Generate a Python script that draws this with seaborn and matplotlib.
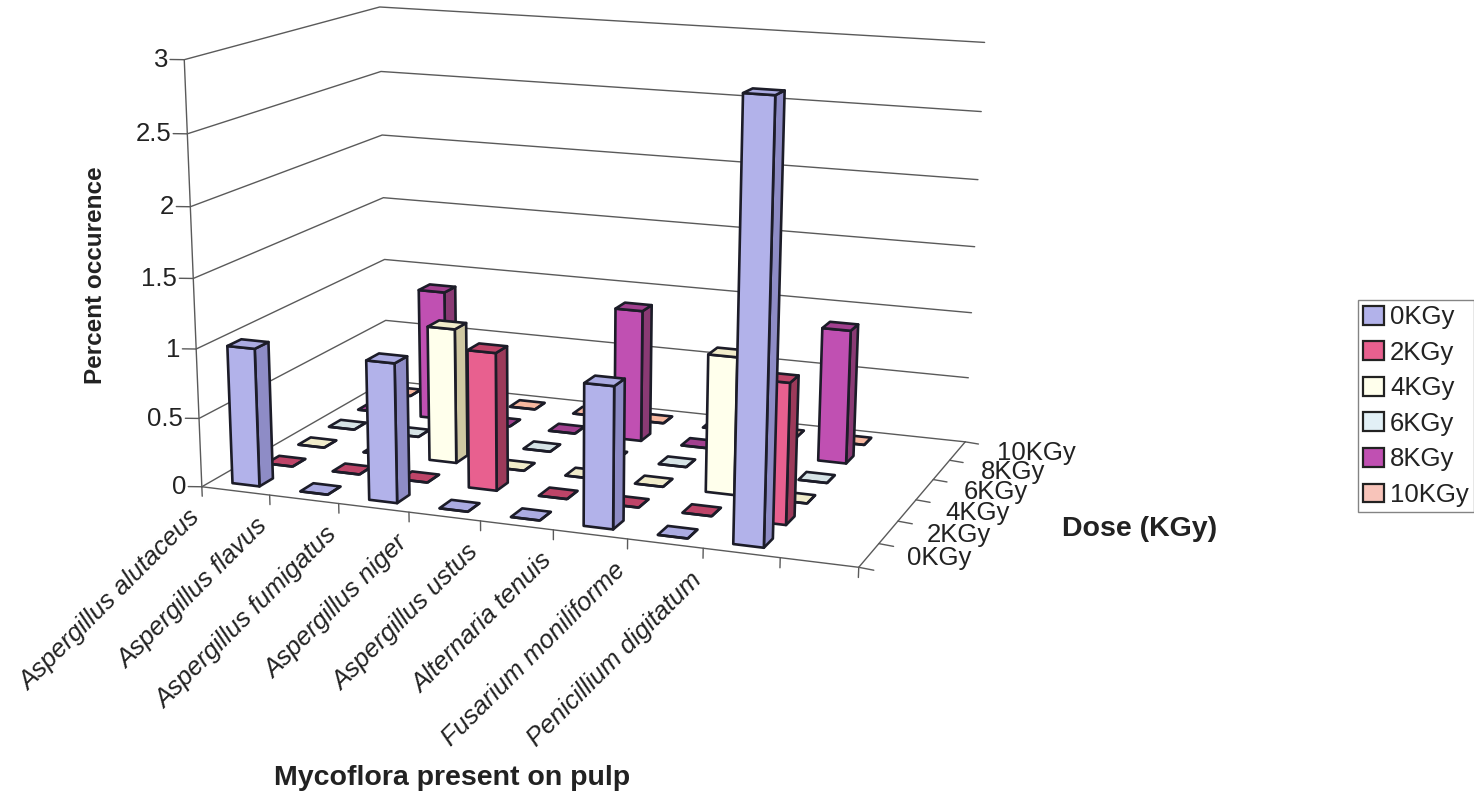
import numpy as np
import pandas as pd
import matplotlib
matplotlib.use("Agg")
import matplotlib.pyplot as plt
from matplotlib.patches import Patch
import seaborn as sns

# ---- values -------------------------------------------------------------
species = ["Aspergillus alutaceus", "Aspergillus flavus", "Aspergillus fumigatus",
           "Aspergillus niger", "Aspergillus ustus", "Alternaria tenuis",
           "Fusarium moniliforme", "Penicillium digitatum"]
doses = ["0KGy", "2KGy", "4KGy", "6KGy", "8KGy", "10KGy"]
dose_0 = [1, 0, 1, 0, 0, 1, 0, 3]
dose_2 = [0, 0, 0, 1, 0, 0, 0, 1]
dose_4 = [0, 0, 1, 0, 0, 0, 1, 0]
dose_6 = [0, 0, 0, 0, 0, 0, 0, 0]
dose_8 = [0, 1, 0, 0, 1, 0, 0, 1]
dose_10 = [0, 0, 0, 0, 0, 0, 0, 0]
z_ticks = [0, 0.5, 1, 1.5, 2, 2.5, 3]
z_tick_labels = ["0", "0.5", "1", "1.5", "2", "2.5", "3"]

front_hex = ["#B2B2EA", "#E8608F", "#FFFFEC", "#E2F0F6", "#C050B2", "#F8C4BA"]
side_hex = ["#8E8CC6", "#9C3A5A", "#CFC8A2", "#B4C4CC", "#8A3A74", "#D09888"]
top_hex = ["#ABABE2", "#BE4468", "#F1ECCB", "#D6E3E6", "#A2408F", "#F8B8A0"]

# ---- camera: a projective map from (species, dose, percent) to image pixels
camera_world = np.array([
    [0, 0, 0], [9, 0, 0], [9, 6, 0], [0, 6, 0],
    [0, 0, 3], [0, 6, 3], [9, 6, 3],
    [0, 0, 1.5], [0, 6, 1.5], [9, 6, 1.5], [4, 0, 0], [9, 3, 0],
], dtype=float)
camera_pixels = np.array([
    [203, 487], [858, 567], [965, 442], [385, 380],
    [183, 60], [381, 7], [984, 42],
    [193, 278], [384, 198], [975, 247], [481, 521], [917, 500],
], dtype=float)


def fit_camera(world, pixels):
    rows = []
    for (x, y, z), (u, v) in zip(world, pixels):
        rows.append([x, y, z, 1, 0, 0, 0, 0, -u * x, -u * y, -u * z, -u])
        rows.append([0, 0, 0, 0, x, y, z, 1, -v * x, -v * y, -v * z, -v])
    p = np.linalg.svd(np.array(rows))[2][-1].reshape(3, 4)
    return p if p[2, 3] > 0 else -p


P = fit_camera(camera_world, camera_pixels)


def to_pixels(x, y, z):
    u, v, w = P @ np.array([x, y, z, 1.0])
    return u / w, v / w


# ---- figure -------------------------------------------------------------
WIDTH, HEIGHT = 1474, 795
sns.set_theme(style="white", rc={"font.family": ["Liberation Sans", "DejaVu Sans"]})
palette = sns.color_palette(front_hex)

fig = plt.figure(figsize=(WIDTH / 100, HEIGHT / 100), dpi=100, facecolor="white")
ax = fig.add_axes([0, 0, 1, 1], projection="3d", computed_zorder=False)
ax.apply_aspect = lambda position=None: None
ax.set_axis_off()


def calibrated_proj():
    # image pixels -> display -> the axes' 2D data space; depth grows away from the viewer
    to_data = ax.transData.inverted().get_affine().get_matrix()
    flip = np.array([[1, 0, 0], [0, -1, HEIGHT], [0, 0, 1]], dtype=float)
    m = to_data @ flip @ P
    return np.array([m[0], m[1], [0, 0, 0, -1], m[2]])


ax.get_proj = calibrated_proj


def label(u, v, text, **kw):
    # text placed in image pixels, measured from the top-left corner
    fig.text(u / WIDTH, 1 - v / HEIGHT, text, color=ink, **kw)


# ---- walls, floor and ticks ---------------------------------------------
n_slots, n_rows = 9, 6
line_kw = dict(color="#5a5a5a", lw=1.0, zorder=1)
for z in z_ticks:
    ax.plot([0, 0, n_slots], [0, n_rows, n_rows], [z, z, z], **line_kw)
    ax.plot([-0.17, 0], [-0.06, 0], [z, z], **line_kw)
ax.plot([0, 0], [0, 0], [0, 3], **line_kw)
ax.plot([0, n_slots, n_slots], [0, 0, n_rows], [0, 0, 0], **line_kw)
for i in range(n_slots + 1):
    ax.plot([i, i], [0, 0], [0, -0.07], **line_kw)
for j in range(n_rows + 1):
    ax.plot([n_slots, n_slots + 0.2], [j, j - 0.04], [0, 0], **line_kw)

# ---- bars, painted back to front -----------------------------------------
table = pd.DataFrame({"species": species, **dict(zip(doses, [dose_0, dose_2, dose_4, dose_6, dose_8, dose_10]))})
long_table = table.melt(id_vars="species", var_name="dose", value_name="percent")

bar_x, bar_y, bar_w = 0.30, 0.30, 0.40
for _, row in long_table.iterrows():
    i = species.index(row["species"])
    j = doses.index(row["dose"])
    # faces in bar3d order: bottom, top, front, back, left, right
    none = (0, 0, 0, 0)
    faces = [none, top_hex[j], front_hex[j], none, none, side_hex[j]]
    edges = [none, "#1c1c28", "#1c1c28", none, none, "#1c1c28"]
    ax.bar3d(i + bar_x, j + bar_y, 0, bar_w, bar_w, row["percent"], color=faces, edgecolor=edges,
             linewidth=1.9, shade=False, zsort="max", zorder=10 + (n_rows - j) * 20 + i)

# ---- text ----------------------------------------------------------------
tick_size = 18.5
ink = "#222222"
for z, text in zip(z_ticks, z_tick_labels):
    u, v = to_pixels(-0.2, -0.06, z)
    label(u, v + 1, text, ha="right", va="center", fontsize=tick_size)
for i, name in enumerate(species):
    u, v = to_pixels(i, 0, 0)
    label(u - 14, v + 19, name, rotation=45, rotation_mode="anchor", ha="right", va="top",
          fontsize=18.5, style="italic")
for j, dose in enumerate(doses):
    u, v = to_pixels(n_slots + 0.5, j + 0.45, 0)
    label(u + j, v - 3, dose, ha="left", va="center", fontsize=tick_size)

label(452, 778, "Mycoflora present on pulp", ha="center", va="center", fontsize=20.5, fontweight="bold")
label(1140, 529, "Dose (KGy)", ha="center", va="center", fontsize=20.5, fontweight="bold")
label(96, 275, "Percent occurence", ha="center", va="center", rotation=90, fontsize=17.5, fontweight="bold")

handles = [Patch(facecolor=c, edgecolor=ink, linewidth=1.6, label=d) for c, d in zip(palette, doses)]
legend = fig.legend(handles=handles, loc="upper right", bbox_to_anchor=(1.0, 1 - 300 / HEIGHT),
                    fontsize=tick_size, frameon=True, fancybox=False, edgecolor="#666666",
                    handlelength=0.8, handleheight=0.75, handletextpad=0.25, labelspacing=0.45,
                    borderaxespad=0, borderpad=0.2, labelcolor=ink)
legend.get_frame().set_linewidth(1.0)

fig.savefig("out.png", dpi=100, facecolor="white")
